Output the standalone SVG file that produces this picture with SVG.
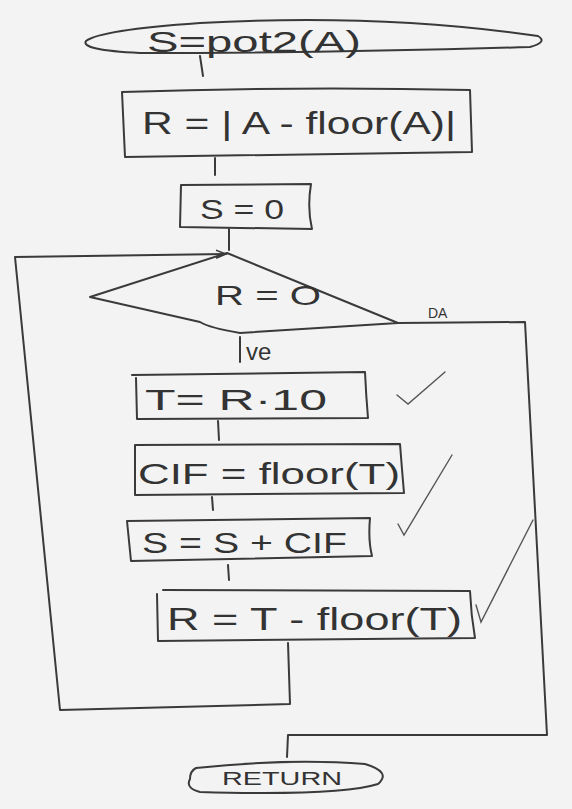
<svg xmlns="http://www.w3.org/2000/svg" width="572" height="809" viewBox="0 0 572 809">
  <style>
    .ink { fill: none; stroke: #3a3a3a; stroke-width: 2; stroke-linecap: round; stroke-linejoin: round; }
    .thin { fill: none; stroke: #555; stroke-width: 1.4; stroke-linecap: round; }
    .lbl { font-family: "Liberation Sans", "DejaVu Sans", sans-serif; fill: #333; }
  </style>
  <defs>
    <marker id="arrow" markerWidth="12" markerHeight="10" refX="10" refY="5" orient="auto" markerUnits="userSpaceOnUse">
      <path d="M0,1 L10,5 L0,9" fill="none" stroke="#3a3a3a" stroke-width="1.6"/>
    </marker>
  </defs>
  <rect width="572" height="809" fill="#f3f3f3"/>

  <g id="start">
    <path class="ink" d="M86,41 Q100,30 200,23 Q380,13 538,36 Q548,42 530,47 Q330,53 140,53 Q80,50 86,41"/>
    <text class="lbl" x="147" y="52" font-size="29" textLength="214" lengthAdjust="spacingAndGlyphs">S=pot2(A)</text>
  </g>

  <g id="box-r-init">
    <path class="ink" d="M122,92 Q300,86 470,90 L472,152 Q300,155 125,157 Z"/>
    <text class="lbl" x="142" y="134" font-size="32" textLength="314" lengthAdjust="spacingAndGlyphs">R = | A - floor(A)|</text>
  </g>

  <g id="box-s-zero">
    <path class="ink" d="M181,185 L311,184 Q307,208 312,229 L180,227 Z"/>
    <text class="lbl" x="200" y="219" font-size="28" textLength="84" lengthAdjust="spacingAndGlyphs">S = 0</text>
  </g>

  <g id="decision">
    <path class="ink" d="M227,253 L398,323 Q320,328 240,333 Q210,328 200,322 L90,297 Z"/>
    <text class="lbl" x="215" y="305" font-size="28" textLength="106" lengthAdjust="spacingAndGlyphs">R = O</text>
  </g>

  <g id="box-t">
    <path class="ink" d="M132,375 L365,372 Q366,395 368,418 L137,419 L136,378"/>
    <text class="lbl" x="145" y="410" font-size="30" textLength="182" lengthAdjust="spacingAndGlyphs">T= R·10</text>
  </g>

  <g id="box-cif">
    <path class="ink" d="M135,445 L400,444 Q402,470 404,493 L135,495 Z"/>
    <text class="lbl" x="138" y="484" font-size="30" textLength="262" lengthAdjust="spacingAndGlyphs">CIF = floor(T)</text>
  </g>

  <g id="box-sum">
    <path class="ink" d="M127,521 L370,518 Q368,540 372,556 L131,561 Z"/>
    <text class="lbl" x="142" y="553" font-size="30" textLength="205" lengthAdjust="spacingAndGlyphs">S = S + CIF</text>
  </g>

  <g id="box-r-frac">
    <path class="ink" d="M163,590 L470,591 Q471,615 475,638 L158,641 L157,594"/>
    <text class="lbl" x="167" y="630" font-size="32" textLength="295" lengthAdjust="spacingAndGlyphs">R = T - floor(T)</text>
  </g>

  <g id="end">
    <path class="ink" d="M196,768 Q290,758 365,764 Q392,772 378,784 Q340,796 200,792 Q185,788 190,779 Q190,771 196,768"/>
    <text class="lbl" x="222" y="785" font-size="19" textLength="120" lengthAdjust="spacingAndGlyphs">RETURN</text>
  </g>

  <g id="connectors">
    <path class="ink" d="M200,56 L203,76"/>
    <path class="ink" d="M215,158 L215,175"/>
    <path class="ink" d="M229,229 L229,250"/>
    <!-- loop back to the decision -->
    <path class="ink" d="M288,643 L290,704 L60,710 L15,257 L226,254" marker-end="url(#arrow)"/>
    <!-- no branch -->
    <path class="ink" d="M240,337 L240,362"/>
    <text class="lbl" x="246" y="360" font-size="24">ve</text>
    <path class="ink" d="M218,421 L219,440"/>
    <path class="ink" d="M212,497 L213,510"/>
    <path class="ink" d="M228,565 L229,580"/>
    <!-- yes branch -->
    <path class="ink" d="M398,323 L525,322 L547,735 L288,735 L287,757"/>
    <text class="lbl" x="428" y="318" font-size="14">DA</text>
  </g>

  <g id="ticks">
    <path class="thin" d="M397,395 L408,404 L445,372"/>
    <path class="thin" d="M398,524 L404,535 L452,455"/>
    <path class="thin" d="M476,605 L481,622 L533,520"/>
  </g>
</svg>
